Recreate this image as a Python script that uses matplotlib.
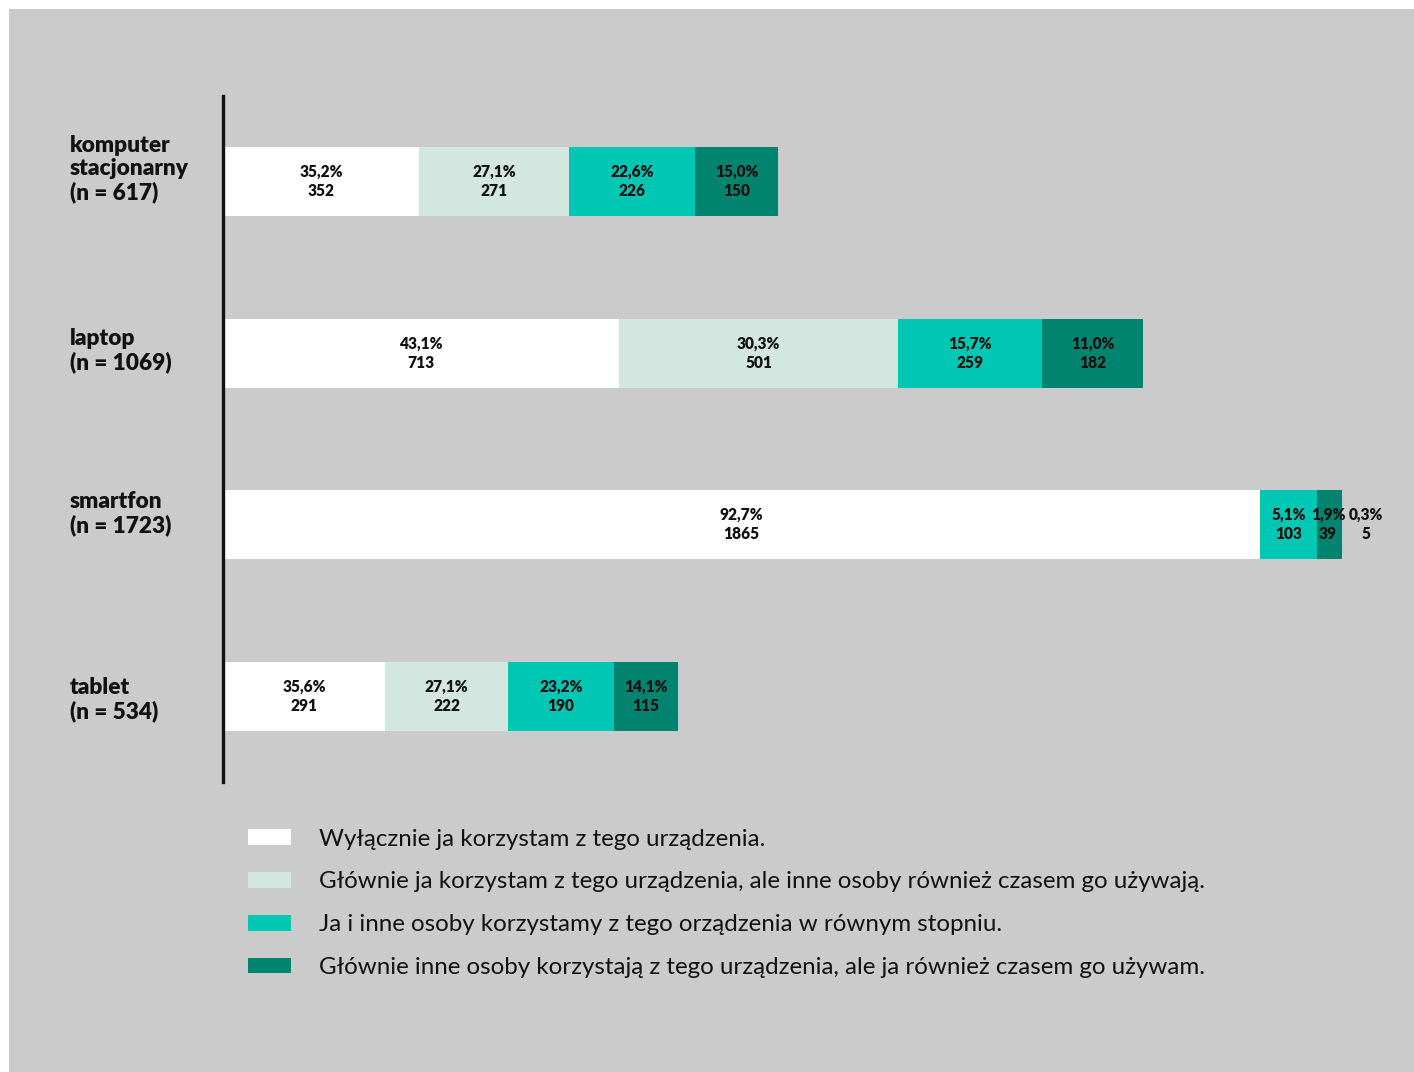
import matplotlib
matplotlib.use("Agg")
import matplotlib.pyplot as plt
from matplotlib.patches import Patch, Rectangle

# ---- data ----
categories = ["komputer\nstacjonarny\n(n = 617)", "laptop\n(n = 1069)", "smartfon\n(n = 1723)", "tablet\n(n = 534)"]
series_labels = [
    "Wyłącznie ja korzystam z tego urządzenia.",
    "Głównie ja korzystam z tego urządzenia, ale inne osoby również czasem go używają.",
    "Ja i inne osoby korzystamy z tego orządzenia w równym stopniu.",
    "Głównie inne osoby korzystają z tego urządzenia, ale ja również czasem go używam.",
]
counts_excl = [352, 713, 1865, 291]
counts_main = [271, 501, 103, 222]
counts_equal = [226, 259, 39, 190]
counts_others = [150, 182, 5, 115]
pct_excl = ["35,2%", "43,1%", "92,7%", "35,6%"]
pct_main = ["27,1%", "30,3%", "5,1%", "27,1%"]
pct_equal = ["22,6%", "15,7%", "1,9%", "23,2%"]
pct_others = ["15,0%", "11,0%", "0,3%", "14,1%"]

colors = ["#ffffff", "#d1e7df", "#00c6b4", "#008470"]
# colours as rendered in the reference for the smartfon bar
smartfon_colors = ["#ffffff", "#00c6b4", "#008470", "#008470"]

FONT = ["Lato", "DejaVu Sans"]
plt.rcParams["font.family"] = FONT

fig = plt.figure(figsize=(14.14, 10.72), dpi=100, facecolor="white")
fig.add_artist(Rectangle((9 / 1414, 0), 1, (1072 - 9) / 1072, transform=fig.transFigure,
                         facecolor="#cbcbcb", edgecolor="none", zorder=-10))

ax = fig.add_axes([223 / 1414, 1 - 782 / 1072, (1400 - 223) / 1414, (782 - 96) / 1072])
ax.set_facecolor("none")

series_counts = [counts_excl, counts_main, counts_equal, counts_others]
series_pcts = [pct_excl, pct_main, pct_equal, pct_others]
y = list(range(len(categories)))
left = [0] * len(categories)
for s, (cnts, pcts) in enumerate(zip(series_counts, series_pcts)):
    cols = [smartfon_colors[s] if i == 2 else colors[s] for i in range(len(categories))]
    bars = ax.barh(y, cnts, left=left, height=0.4, color=cols, edgecolor="none",
                   label=series_labels[s])
    for i, b in enumerate(bars):
        xc = b.get_x() + b.get_width() / 2
        dx = 0
        if cnts[i] < 20:
            dx = 24  # push tiny segment label outside, in pixels
            xc = b.get_x() + b.get_width()
        ax.annotate(f"{pcts[i]}\n{cnts[i]}", (xc, i), xytext=(dx * 0.72, 0),
                    textcoords="offset points", ha="center", va="center",
                    fontsize=11.2, fontweight="heavy", linespacing=1.25, color="#111111")
    left = [l + c for l, c in zip(left, cnts)]

ax.set_ylim(3.5, -0.5)
ax.set_xlim(0, (1400 - 223) / 0.556)
for sp in ["top", "right", "bottom"]:
    ax.spines[sp].set_visible(False)
ax.spines["left"].set_linewidth(2.4)
ax.spines["left"].set_color("#111111")
ax.set_xticks([])
ax.set_yticks([])

label_offsets = [-13, -3, -11, 3]  # px, visual fine-tuning of the category labels
for i, cat in enumerate(categories):
    ax.annotate(cat, (0, i), xycoords=("axes fraction", "data"),
                xytext=(-(223 - 70) * 0.72, -label_offsets[i] * 0.72), textcoords="offset points",
                ha="left", va="center", fontsize=16.3, fontweight="heavy",
                linespacing=1.12, color="#111111")

handles = [Patch(facecolor=c, edgecolor="none") for c in colors]
leg = fig.legend(handles, series_labels, loc="upper left",
                 bbox_to_anchor=(226 / 1414, 1 - 807 / 1072), frameon=False,
                 fontsize=17.4, handlelength=1.8, handleheight=0.62, handletextpad=1.15,
                 labelspacing=0.9)
for t in leg.get_texts():
    t.set_color("#111111")

fig.savefig("out.png", dpi=100, facecolor="white")
